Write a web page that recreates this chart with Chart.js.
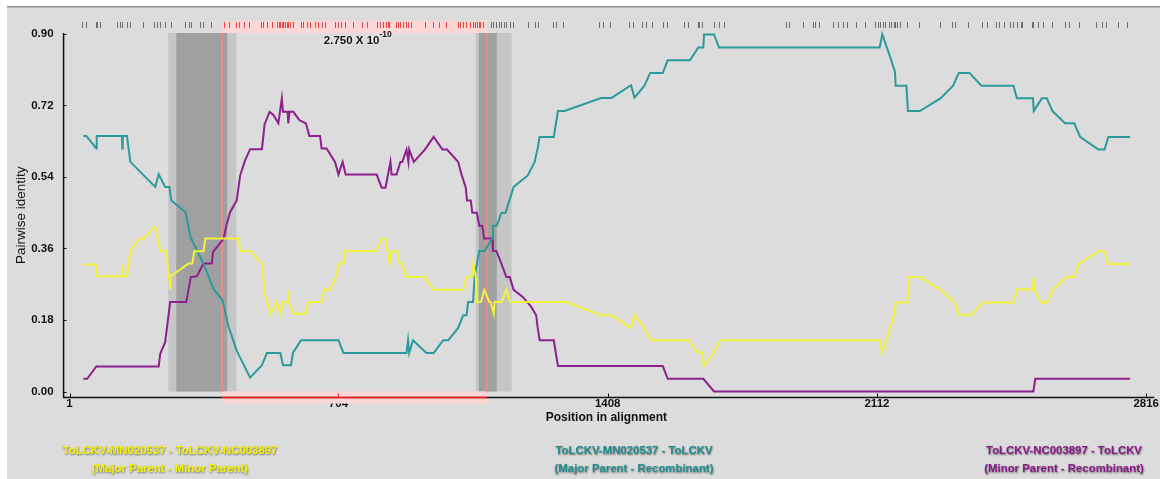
<!DOCTYPE html>
<html>
<head>
<meta charset="utf-8">
<script src="https://cdn.jsdelivr.net/npm/chart.js@4.4.0/dist/chart.umd.min.js"></script>
<style>
  html, body { margin: 0; padding: 0; background: #fff; }
  canvas { display: block; }
</style>
</head>
<body>
<canvas id="rdpChart" width="1160" height="479" style="width:1160px;height:479px"></canvas>
<script>
// tick labels
const xTicks = [1, 704, 1408, 2112, 2816];
const yTicks = [0, 0.18, 0.36, 0.54, 0.72, 0.90];

// series names (bottom legend)
const seriesNames = ['ToLCKV-MN020537 - ToLCKV-NC003897', 'ToLCKV-MN020537 - ToLCKV', 'ToLCKV-NC003897 - ToLCKV'];
const seriesRoles = ['(Major Parent - Minor Parent)', '(Major Parent - Recombinant)', '(Minor Parent - Recombinant)'];

// [position, pairwise identity]
const majorMinor = [[37,.32],[71,.32],[73,.29],[138,.29],[139,.32],[140,.29],[151,.29],[160,.354],[184,.385],[195,.385],[225,.416],[238,.354],[254,.354],[264,.259],[265,.29],[312,.322],[322,.322],[327,.353],[351,.353],[356,.385],[443,.385],[447,.354],[473,.354],[504,.322],[512,.246],[527,.196],[543,.225],[552,.196],[559,.225],[572,.225],[573,.254],[575,.225],[586,.196],[619,.196],[625,.225],[660,.225],[667,.256],[682,.256],[697,.288],[706,.322],[717,.322],[721,.354],[805,.354],[817,.385],[827,.385],[838,.322],[843,.354],[857,.354],[864,.322],[871,.322],[882,.288],[930,.288],[953,.256],[1030,.256],[1039,.288],[1052,.288],[1056,.322],[1063,.288],[1066,.225],[1077,.225],[1085,.256],[1099,.225],[1102,.225],[1110,.196],[1112,.225],[1130,.225],[1143,.256],[1153,.225],[1300,.225],[1391,.192],[1417,.192],[1469,.16],[1478,.192],[1504,.16],[1521,.129],[1621,.129],[1643,.098],[1656,.098],[1659,.064],[1686,.098],[1702,.129],[2119,.129],[2126,.098],[2157,.192],[2161,.224],[2192,.224],[2195,.288],[2225,.288],[2280,.255],[2315,.225],[2326,.193],[2359,.193],[2389,.224],[2469,.224],[2478,.257],[2520,.257],[2521,.288],[2523,.257],[2541,.224],[2558,.224],[2573,.257],[2608,.288],[2628,.288],[2640,.322],[2693,.354],[2707,.354],[2716,.321],[2774,.321]];

const majorRec = [[37,.643],[45,.643],[71,.612],[72,.643],[138,.643],[139,.612],[140,.643],[151,.643],[160,.578],[195,.544],[225,.515],[234,.547],[251,.515],[262,.515],[267,.481],[304,.452],[317,.389],[351,.322],[377,.259],[401,.229],[417,.162],[438,.103],[473,.035],[504,.066],[517,.097],[552,.097],[559,.066],[580,.066],[585,.097],[606,.129],[704,.129],[717,.097],[882,.097],[886,.129],[889,.097],[899,.129],[934,.097],[953,.097],[978,.129],[991,.129],[1017,.16],[1030,.192],[1039,.192],[1043,.225],[1056,.225],[1060,.288],[1072,.354],[1086,.354],[1106,.385],[1108,.417],[1118,.417],[1130,.45],[1141,.45],[1162,.515],[1199,.544],[1217,.578],[1225,.612],[1230,.641],[1267,.641],[1278,.706],[1295,.706],[1391,.739],[1418,.739],[1469,.771],[1478,.74],[1504,.77],[1519,.802],[1552,.802],[1565,.834],[1623,.834],[1645,.866],[1658,.866],[1660,.899],[1686,.899],[1699,.866],[2119,.866],[2126,.899],[2148,.838],[2159,.805],[2161,.77],[2189,.77],[2193,.706],[2224,.706],[2278,.738],[2311,.77],[2326,.802],[2354,.802],[2385,.77],[2469,.77],[2478,.738],[2520,.738],[2522,.706],[2543,.738],[2556,.738],[2571,.706],[2604,.675],[2628,.675],[2643,.641],[2691,.609],[2707,.609],[2717,.641],[2774,.641]];

const minorRec = [[37,.032],[47,.032],[71,.063],[234,.063],[238,.095],[251,.124],[264,.225],[306,.225],[318,.288],[334,.29],[351,.322],[373,.322],[376,.351],[404,.385],[411,.418],[421,.452],[438,.481],[447,.544],[460,.582],[473,.61],[504,.61],[511,.673],[524,.704],[534,.696],[547,.675],[556,.738],[559,.704],[571,.704],[573,.675],[576,.704],[586,.704],[602,.683],[619,.675],[628,.643],[656,.643],[660,.612],[673,.612],[695,.578],[704,.546],[715,.578],[723,.546],[804,.546],[817,.513],[827,.513],[840,.578],[843,.546],[856,.546],[866,.578],[871,.578],[882,.609],[887,.578],[889,.609],[901,.578],[930,.609],[953,.641],[976,.609],[988,.609],[1017,.578],[1026,.546],[1037,.513],[1040,.481],[1050,.481],[1054,.45],[1066,.45],[1072,.417],[1080,.417],[1085,.385],[1106,.385],[1108,.354],[1117,.354],[1130,.322],[1143,.288],[1152,.288],[1162,.256],[1186,.238],[1208,.213],[1221,.192],[1225,.16],[1230,.129],[1267,.129],[1278,.064],[1552,.064],[1565,.032],[1658,.032],[1686,0],[2521,0],[2526,.032],[2774,.032]];

// recombination event
const breakpoints = [400, 1092];
const outerRegions = [[259, 437], [1063, 1157]];
const innerRegions = [[280, 413], [1071, 1118]];
const pValue = ['2.750 X 10', '-10'];

// informative sites (top ticks)
const sites = [34,45,69,73,80,125,134,137,150,160,193,223,230,238,251,265,304,312,319,343,351,371,
  404,417,435,445,456,469,502,508,517,530,544,548,551,556,560,565,569,573,578,586,606,612,621,630,643,651,660,669,695,704,712,721,743,765,778,804,812,821,828,834,837,854,860,866,873,880,886,895,930,950,967,985,1017,1023,1030,1037,1049,1056,1062,1066,1071,1075,1082,
  1104,1108,1117,1124,1130,1137,1143,1152,1160,1199,1219,1225,1265,1272,1292,1386,1397,1414,1465,1475,1499,1508,1525,1552,1562,1608,1617,1643,1647,1654,1686,1700,1713,
  1873,1882,1919,1945,1950,1960,1997,2010,2023,2034,2056,2082,2108,2115,2121,2127,2134,2143,2150,2156,2160,2165,2171,2191,2221,2278,2308,2317,2350,2386,2399,2423,2432,2445,2460,2469,2478,2488,2491,2517,2521,2534,2547,2569,2604,2614,2639,2686,2700,2711,2743,2767];

const colors = ['#f2f23c', '#2a9a9a', '#8e1f8e'];
const textColors = ['#f4f400', '#1f8f8f', '#8a1a8a'];
const FONT = 'Arial, "Liberation Sans", sans-serif';
Chart.defaults.font.family = FONT;

const toXY = arr => arr.map(p => ({ x: p[0], y: p[1] }));

const rdpPlugin = {
    id: 'rdp',
    beforeDraw(chart) {
        const c = chart.ctx;
        c.save();
        c.fillStyle = '#fff';
        c.fillRect(0, 0, chart.width, chart.height);
        c.fillStyle = '#dcdcdc';
        c.fillRect(7, 7, chart.width - 7, chart.height - 7);
        c.fillStyle = '#8f8f8f';
        c.fillRect(7, 6, chart.width - 7, 1.5);
        c.restore();
    },
    beforeDatasetsDraw(chart) {
        const { ctx: c, chartArea: a, scales: { x, y } } = chart;
        const y0 = y.getPixelForValue(0);
        c.save();
        // shaded regions
        c.fillStyle = '#c6c6c6';
        outerRegions.forEach(([s, e]) => {
            const p0 = x.getPixelForValue(s), p1 = x.getPixelForValue(e);
            c.fillRect(p0, a.top, p1 - p0, y0 - a.top);
        });
        c.fillStyle = '#a0a0a0';
        innerRegions.forEach(([s, e]) => {
            const p0 = x.getPixelForValue(s), p1 = x.getPixelForValue(e);
            c.fillRect(p0, a.top, p1 - p0, y0 - a.top);
        });
        // pink bands
        const b0 = x.getPixelForValue(breakpoints[0]), b1 = x.getPixelForValue(breakpoints[1]);
        c.fillStyle = '#ffd6d6';
        c.fillRect(b0, a.top - 12, b1 - b0, 12);
        c.fillRect(b0, y0, b1 - b0, 12);
        // breakpoint lines
        c.strokeStyle = '#f28c8c';
        c.lineWidth = 1.5;
        breakpoints.forEach(bp => {
            const px = x.getPixelForValue(bp);
            c.beginPath(); c.moveTo(px, a.top); c.lineTo(px, y0); c.stroke();
        });
        // informative sites
        c.lineWidth = 1;
        sites.forEach(p => {
            const px = Math.round(x.getPixelForValue(p)) + 0.5;
            c.strokeStyle = (p >= breakpoints[0] && p <= breakpoints[1]) ? '#e94545' : '#707070';
            c.beginPath(); c.moveTo(px, a.top - 11); c.lineTo(px, a.top - 5); c.stroke();
        });
        // axes
        c.strokeStyle = '#111';
        c.lineWidth = 1.5;
        c.beginPath(); c.moveTo(a.left, a.top); c.lineTo(a.left, a.bottom); c.lineTo(a.right + 5, a.bottom); c.stroke();
        c.strokeStyle = '#ff2020';
        c.beginPath(); c.moveTo(b0, a.bottom); c.lineTo(b1, a.bottom); c.stroke();
        c.lineWidth = 1;
        yTicks.forEach(v => {
            const py = Math.round(y.getPixelForValue(v)) + 0.5;
            c.strokeStyle = '#111';
            c.beginPath(); c.moveTo(a.left, py); c.lineTo(a.left + 3, py); c.stroke();
        });
        xTicks.forEach(v => {
            const px = Math.round(x.getPixelForValue(v)) + 0.5;
            c.strokeStyle = (v >= breakpoints[0] && v <= breakpoints[1]) ? '#ff2020' : '#111';
            c.beginPath(); c.moveTo(px, a.bottom - 4); c.lineTo(px, a.bottom); c.stroke();
        });
        c.restore();
    },
    afterDatasetsDraw(chart) {
        const { ctx: c, chartArea: a, scales: { x } } = chart;
        const mid = (x.getPixelForValue(breakpoints[0]) + x.getPixelForValue(breakpoints[1])) / 2;
        c.save();
        c.shadowColor = 'rgba(255,255,255,0.9)';
        c.shadowBlur = 3;
        c.fillStyle = '#111';
        c.font = 'bold 11.5px ' + FONT;
        c.textAlign = 'right';
        c.textBaseline = 'alphabetic';
        c.fillText(pValue[0], mid + 25, a.top + 10.5);
        c.font = 'bold 8.5px ' + FONT;
        c.textAlign = 'left';
        c.fillText(pValue[1], mid + 25, a.top + 4);
        c.restore();
    },
    afterDraw(chart) {
        const c = chart.ctx;
        const centers = [170, 634, 1064];
        c.save();
        c.font = 'bold 11.4px ' + FONT;
        c.textAlign = 'center';
        c.textBaseline = 'middle';
        c.shadowColor = 'rgba(0,0,0,0.55)';
        c.shadowBlur = 2;
        c.shadowOffsetX = 0.5;
        c.shadowOffsetY = 0.5;
        seriesNames.forEach((n, i) => {
            c.fillStyle = textColors[i];
            c.fillText(n, centers[i], 451);
            c.fillText(seriesRoles[i], centers[i], 469);
        });
        c.restore();
    }
};

const lineDs = (arr, i) => ({
    data: toXY(arr),
    showLine: true,
    borderColor: colors[i],
    backgroundColor: colors[i],
    borderWidth: 2,
    pointRadius: 0,
    tension: 0,
    clip: false
});

new Chart(document.getElementById('rdpChart').getContext('2d'), {
    type: 'scatter',
    data: {
        datasets: [lineDs(majorMinor, 0), lineDs(majorRec, 1), lineDs(minorRec, 2)]
    },
    options: {
        responsive: false,
        animation: false,
        layout: { padding: { top: 33, right: 2, bottom: 55, left: 5 } },
        plugins: { legend: { display: false }, tooltip: { enabled: false } },
        scales: {
            x: {
                type: 'linear',
                min: -14.65,
                max: 2824,
                afterBuildTicks: s => { s.ticks = xTicks.map(v => ({ value: v })); },
                grid: { display: false, drawTicks: false },
                border: { display: false },
                ticks: {
                    color: '#111', padding: 1, maxRotation: 0, autoSkip: false,
                    font: { size: 11.5, weight: 'bold', lineHeight: 1 },
                    callback: v => String(v)
                },
                title: {
                    display: true, text: 'Position in alignment', color: '#111',
                    font: { size: 12, weight: 'bold', lineHeight: 1 }, padding: { top: 1, bottom: 0 }
                }
            },
            y: {
                type: 'linear',
                min: -0.0151,
                max: 0.9025,
                afterBuildTicks: s => { s.ticks = yTicks.map(v => ({ value: v })); },
                grid: { display: false, drawTicks: false },
                border: { display: false },
                ticks: {
                    color: '#111', padding: 10, autoSkip: false,
                    font: { size: 11.5, weight: 'bold' },
                    callback: v => v.toFixed(2)
                },
                title: {
                    display: true, text: 'Pairwise identity', color: '#111',
                    font: { size: 13.5 }, padding: { top: 8, bottom: -8 }
                }
            }
        }
    },
    plugins: [rdpPlugin]
});
</script>
</body>
</html>
